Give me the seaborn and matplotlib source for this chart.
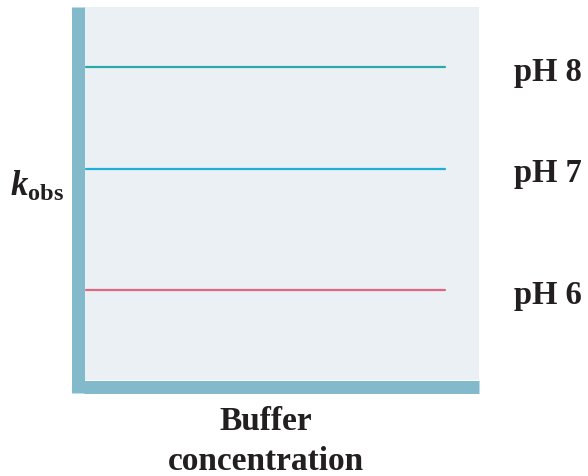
import matplotlib
matplotlib.use("Agg")
import matplotlib.pyplot as plt
import seaborn as sns
import pandas as pd

# Data
ph_labels = ["pH 8", "pH 7", "pH 6"]
k_obs = [0.839, 0.566, 0.241]
buffer_conc = [0.0, 1.0]
line_colors = ["#2aa9a8", "#1fb0d6", "#de6784"]

rows = []
for lab, k in zip(ph_labels, k_obs):
    for x in buffer_conc:
        rows.append({"Buffer concentration": x, "k_obs": k, "pH": lab})
df = pd.DataFrame(rows)

sns.set_theme(style="white")
plt.rcParams["font.family"] = ["Liberation Serif", "DejaVu Serif"]
plt.rcParams["mathtext.fontset"] = "custom"
plt.rcParams["mathtext.rm"] = "Liberation Serif:bold"
plt.rcParams["mathtext.it"] = "Liberation Serif:italic:bold"
plt.rcParams["mathtext.bf"] = "Liberation Serif:bold"

W, H = 588, 476
fig = plt.figure(figsize=(W / 100, H / 100), dpi=100)
ax = fig.add_axes([84 / W, 1 - 380 / H, (479 - 84) / W, (380 - 7) / H])
ax.set_facecolor("#ebf0f5")

sns.lineplot(data=df, x="Buffer concentration", y="k_obs", hue="pH",
             palette=dict(zip(ph_labels, line_colors)), linewidth=1.6,
             legend=False, ax=ax)

ax.set_xlim(-2 / 359, 1 + 34 / 359)
ax.set_ylim(0, 1)
ax.set_xticks([])
ax.set_yticks([])
ax.set_xlabel("")
ax.set_ylabel("")

bar_color = "#82bacb"
lw_pt = 13 * 0.72
for side in ["top", "right"]:
    ax.spines[side].set_visible(False)
for side in ["left", "bottom"]:
    sp = ax.spines[side]
    sp.set_visible(True)
    sp.set_color(bar_color)
    sp.set_linewidth(lw_pt)
    sp.set_position(("outward", 6.5 * 0.72))
    sp.set_capstyle("butt")
ax.spines["left"].set_bounds(-13 / 373, 1)

for lab, k, c in zip(ph_labels, k_obs, line_colors):
    ax.annotate(lab, xy=(1, k), xytext=(69, -5), textcoords="offset pixels",
                ha="left", va="center", fontsize=23.5, fontweight="bold",
                color="#231f20", annotation_clip=False)

fig.text(266 / W, 1 - 421 / H, "Buffer", ha="center", va="center",
         fontsize=24, fontweight="bold", color="#231f20")
fig.text(266 / W, 1 - 461 / H, "concentration", ha="center", va="center",
         fontsize=24, fontweight="bold", color="#231f20")
fig.text(10 / W, 1 - 187 / H, r"$k_{\mathrm{obs}}$", ha="left", va="center",
         fontsize=25, color="#231f20")

fig.savefig("out.png", dpi=100)
